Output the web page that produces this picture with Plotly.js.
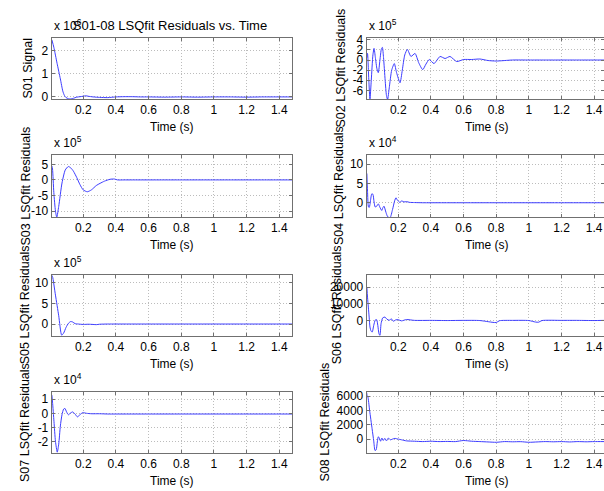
<!DOCTYPE html>
<html>
<head>
<meta charset="utf-8">
<script src="https://cdn.plot.ly/plotly-3.0.1.min.js"></script>
<style>html,body{margin:0;padding:0;background:#fff;overflow:hidden}</style>
</head>
<body>
<div id="chart" style="width:604px;height:491px"></div>
<script>
// ---- Data ----
// S01 Signal, units of 1e6
const t01 = [0.008,0.02,0.04,0.06,0.075,0.085,0.095,0.11,0.125,0.14,0.16,0.18,0.2,0.215,0.23,0.26,0.3,0.35,0.4,0.45,0.5,0.55,0.6,0.7,0.8,0.9,1.0,1.1,1.2,1.3,1.4,1.48];
const v01 = [2.47,2.15,1.45,0.78,0.25,0.06,-0.03,-0.08,-0.09,-0.06,-0.01,0.01,0.03,0.05,0.03,0.0,-0.02,-0.03,0.0,0.01,0.01,0.0,0.0,-0.01,0.0,-0.01,0.0,0.0,-0.01,0.0,0.0,0.0];
// S02 residuals, units of 1e5
const t02 = [0.008,0.012,0.02,0.027,0.035,0.045,0.052,0.06,0.07,0.078,0.088,0.097,0.103,0.11,0.12,0.128,0.135,0.145,0.16,0.176,0.19,0.211,0.225,0.24,0.256,0.278,0.303,0.325,0.35,0.37,0.39,0.419,0.456,0.487,0.517,0.558,0.6,0.65,0.7,0.75,0.8,0.9,1.0,1.1,1.2,1.3,1.4,1.46];
const v02 = [0.5,1.3,-4,-7.7,-4,1,2.3,0.5,-1.8,-2.5,0,2.2,2.5,0.5,-4,-7,-7.8,-5.5,-2,-0.7,-2.5,-4.5,-2,1,2.1,0.7,1.3,-0.5,-1.9,-0.8,0.1,-0.7,0.7,0.3,0.7,-0.3,0.1,0.1,0.2,-0.1,-0.2,0,0,0,0,0,0,0];
// S03 residuals, units of 1e5
const t03 = [0.008,0.012,0.02,0.03,0.038,0.05,0.07,0.09,0.109,0.125,0.14,0.16,0.18,0.2,0.225,0.25,0.28,0.303,0.33,0.364,0.39,0.41,0.45,0.5,0.6,0.7,0.8,0.9,1.0,1.1,1.2,1.3,1.4,1.48];
const v03 = [4.5,3.5,-4,-10,-12,-8.5,-1,3.2,4.3,3.8,2.8,0.8,-1.5,-3.2,-3.8,-3.2,-1.8,-1.1,-0.4,0.2,0.3,0.0,0,0,0,0,0,0,0,0,0,0,0,0];
// S04 residuals, units of 1e4
const t04 = [0.008,0.012,0.018,0.023,0.03,0.038,0.045,0.052,0.059,0.068,0.078,0.088,0.099,0.106,0.113,0.125,0.135,0.15,0.165,0.178,0.186,0.195,0.21,0.221,0.235,0.25,0.27,0.3,0.35,0.4,0.6,0.8,1.0,1.2,1.4,1.46];
const v04 = [7.6,3,-1.1,-1.2,0.5,2.3,2.2,0.2,-1.1,-0.9,-0.3,-1.2,-2.0,-1.3,-0.9,-2.5,-3.6,-3.9,-1.8,0.5,1.3,0.7,0.1,0.5,0.2,0.3,0.1,0.05,0,0,0,0,0,0,0,0];
// S05 residuals, units of 1e5
const t05 = [0.008,0.012,0.03,0.05,0.068,0.08,0.095,0.11,0.123,0.135,0.15,0.17,0.2,0.23,0.26,0.28,0.3,0.35,0.4,0.6,0.8,1.0,1.2,1.4,1.48];
const v05 = [11.8,11.5,7,2,-2.7,-2.2,-0.8,0.2,0.6,0.5,0.1,0.0,-0.1,-0.05,-0.1,-0.15,-0.05,0,0,0,0,0,0,0,0];
// S06 residuals
const t06 = [0.008,0.012,0.017,0.022,0.027,0.034,0.041,0.05,0.06,0.068,0.075,0.082,0.088,0.095,0.105,0.119,0.13,0.145,0.157,0.17,0.185,0.2,0.22,0.25,0.3,0.4,0.5,0.6,0.7,0.78,0.8,0.82,0.9,1.0,1.04,1.06,1.08,1.2,1.3,1.4,1.46];
const v06 = [20000,14000,8000,2000,-4000,-6500,-7000,-3000,300,400,-3000,-8000,-9000,-2000,1500,2000,800,0,1000,-500,300,400,-300,500,0,0,-100,0,-100,-1200,-1300,-200,0,-100,-1000,-1100,-100,0,0,-100,0];
// S07 residuals, units of 1e4
const t07 = [0.008,0.012,0.021,0.03,0.041,0.05,0.06,0.07,0.08,0.088,0.098,0.109,0.12,0.135,0.15,0.164,0.18,0.197,0.22,0.25,0.3,0.35,0.4,0.6,0.8,1.0,1.2,1.4,1.48];
const v07 = [1.3,0.8,-0.6,-2.0,-2.77,-2.2,-0.9,-0.1,0.3,0.35,0.1,-0.1,0.0,0.1,-0.05,-0.25,-0.1,0.05,0.0,-0.03,-0.03,-0.05,-0.05,-0.05,-0.05,-0.05,-0.05,-0.05,-0.05];
// S08 residuals
const t08 = [0.007,0.01,0.013,0.025,0.04,0.05,0.058,0.065,0.072,0.078,0.085,0.092,0.1,0.108,0.118,0.128,0.14,0.152,0.165,0.18,0.19,0.2,0.22,0.25,0.3,0.35,0.4,0.45,0.5,0.55,0.6,0.65,0.7,0.75,0.8,0.85,0.9,0.95,1.0,1.05,1.1,1.15,1.2,1.25,1.3,1.35,1.4,1.46];
const v08 = [6500,6000,6000,4000,1450,-250,-1600,-1500,-400,330,100,-300,150,-200,100,-250,150,-100,0,100,50,0,-100,-250,-300,-350,-300,-350,-330,-350,-200,-300,-350,-400,-450,-350,-380,-360,-450,-400,-350,-380,-350,-400,-350,-380,-350,-350];

const yLabels = ['S01 Signal','S02 LSQfit Residuals','S03 LSQfit Residuals','S04 LSQfit Residuals','S05 LSQfit Residuals','S06 LSQfit Residuals','S07 LSQfit Residuals','S08 LSQfit Residuals'];
const exponents = ['6','5','5','4','5',null,'4',null];
const yTicks = [[0,1,2],[-6,-4,-2,0,2,4],[-10,-5,0,5],[0,5,10],[0,5,10],[0,10000,20000],[-2,-1,0,1],[0,2000,4000,6000]];
const xTickVals = [0.2,0.4,0.6,0.8,1.0,1.2,1.4];
const xTickText = ['0.2','0.4','0.6','0.8','1','1.2','1.4'];
const xLabel = 'Time (s)';
const mainTitle = 'S01-08 LSQfit Residuals vs. Time';

// ---- Layout geometry (pixels) ----
const W = 604, H = 491;
const colX = [[51.7, 292.3],[366.7, 604]];
const rowY = [[38, 99],[155, 217],[274.5, 336],[392, 453]];
const yRanges = [[-0.09,2.55],[-7.7,4.35],[-11.9,8.0],[-3.7,12.4],[-2.9,12.0],[-9400,27600],[-2.83,1.52],[-1950,6600]];
const xRangeL = [0.007, 1.48];
const xRangeR = [0.007, 1.46];
const yTitleX = [28, 341, 25.5, 339, 25, 337, 24.5, 324];

const ts = [t01,t02,t03,t04,t05,t06,t07,t08];
const vs = [v01,v02,v03,v04,v05,v06,v07,v08];

const FONT = 'Liberation Sans, Arial, Helvetica, sans-serif';
const fs = 12;
const px2x = p => p / W;
const py2y = p => 1 - p / H;

const data = [];
const layout = {
  width: W, height: H,
  margin: {l:0, r:0, t:0, b:0},
  paper_bgcolor: '#fff', plot_bgcolor: '#fff',
  showlegend: false,
  font: {family: FONT, size: fs, color: '#000'},
  title: {text: mainTitle, x: px2x(170), xanchor: 'center', y: py2y(25), yanchor: 'middle', font: {family: FONT, size: 13, color: '#000'}},
  annotations: []
};

for (let i = 0; i < 8; i++) {
  const col = i % 2, row = Math.floor(i / 2);
  const n = i + 1;
  const xa = n === 1 ? 'x' : 'x' + n;
  const ya = n === 1 ? 'y' : 'y' + n;
  data.push({
    x: ts[i], y: vs[i], xaxis: xa, yaxis: ya, type: 'scatter', mode: 'lines',
    line: {color: 'rgb(60,60,255)', width: 1, shape: 'spline', smoothing: 0.6},
    hoverinfo: 'none'
  });
  const common = {
    showline: true, mirror: 'ticks', linecolor: '#707070', linewidth: 1,
    ticks: 'inside', ticklen: 3, tickcolor: '#707070',
    showgrid: true, gridcolor: '#bcbcbc', griddash: '1px,2px', gridwidth: 1,
    zeroline: false, tickfont: {family: FONT, size: fs, color: '#000'},
    fixedrange: true
  };
  const d = colX[col];
  layout['xaxis' + (n === 1 ? '' : n)] = Object.assign({}, common, {
    domain: [px2x(d[0]), Math.min(1, px2x(d[1]))],
    anchor: ya, range: col === 0 ? xRangeL : xRangeR,
    tickmode: 'array', tickvals: xTickVals, ticktext: xTickText
  });
  const r = rowY[row];
  layout['yaxis' + (n === 1 ? '' : n)] = Object.assign({}, common, {
    domain: [py2y(r[1]), py2y(r[0])],
    anchor: xa, range: yRanges[i],
    tickmode: 'array', tickvals: yTicks[i], ticktext: yTicks[i].map(String)
  });
  // x-axis label
  layout.annotations.push({
    text: xLabel, xref: 'paper', yref: 'paper',
    x: px2x((d[0] + d[0] + 240.6) / 2), y: py2y(r[1] + 27.5),
    xanchor: 'center', yanchor: 'middle', showarrow: false,
    font: {family: FONT, size: fs, color: '#000'}
  });
  // y-axis label
  layout.annotations.push({
    text: yLabels[i], xref: 'paper', yref: 'paper',
    x: px2x(yTitleX[i]), y: py2y((r[0] + r[1]) / 2),
    xanchor: 'center', yanchor: 'middle', textangle: -90, showarrow: false,
    font: {family: FONT, size: 12.5, color: '#000'}
  });
  // exponent label
  if (exponents[i]) {
    layout.annotations.push({
      text: 'x 10<sup>' + exponents[i] + '</sup>', xref: 'paper', yref: 'paper',
      x: px2x(d[0]), y: py2y(r[0] - 3),
      xanchor: 'left', yanchor: 'bottom', showarrow: false,
      font: {family: FONT, size: fs, color: '#000'}
    });
  }
}

Plotly.newPlot('chart', data, layout, {staticPlot: true, displayModeBar: false});
</script>
</body>
</html>
